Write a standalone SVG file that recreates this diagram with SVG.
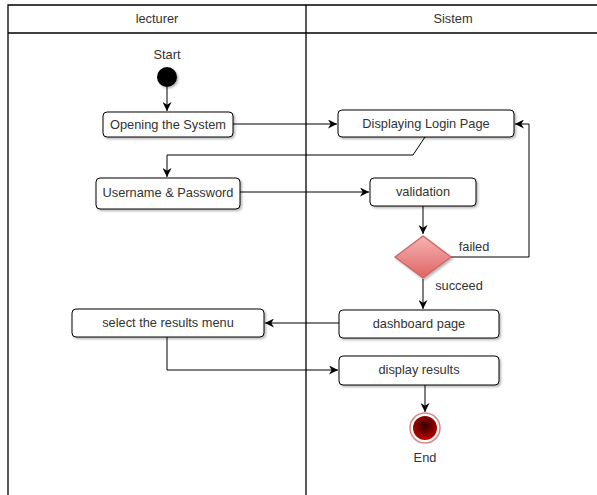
<svg xmlns="http://www.w3.org/2000/svg" width="597" height="495" viewBox="0 0 597 495">
<defs>
<marker id="arr" viewBox="0 0 10 10" refX="10" refY="5" markerWidth="9" markerHeight="9" markerUnits="userSpaceOnUse" orient="auto">
<path d="M0,0 L10,5 L0,10 L3,5 z" fill="#000"/>
</marker>
<linearGradient id="dia" x1="0" y1="0" x2="0" y2="1">
<stop offset="0" stop-color="#f6b3b3"/>
<stop offset="1" stop-color="#e06464"/>
</linearGradient>
<radialGradient id="endg" cx="0.5" cy="0.4" r="0.6">
<stop offset="0" stop-color="#300000"/>
<stop offset="1" stop-color="#c00000"/>
</radialGradient>
<filter id="sh" x="-10%" y="-10%" width="130%" height="150%">
<feDropShadow dx="1.5" dy="1.5" stdDeviation="0.8" flood-color="#000" flood-opacity="0.3"/>
</filter>
</defs>
<style>
.lane{fill:none;stroke:#000;stroke-width:1.3}
.box{fill:#fff;stroke:#000;stroke-width:1;filter:url(#sh)}
.t{font-family:"Liberation Sans",Arial,sans-serif;font-size:12.8px;fill:#333;text-anchor:middle}
.c{fill:none;stroke:#000;stroke-width:1;marker-end:url(#arr)}
</style>
<rect width="597" height="495" fill="#fff"/>
<g id="lanes">
<path class="lane" d="M8,500 V5 H600 M8,33 H600 M306,5 V500"/>
<text class="t" x="157" y="23">lecturer</text>
<text class="t" x="453" y="23">Sistem</text>
</g>
<g id="connectors">
<path class="c" d="M167,87 V111"/>
<path class="c" d="M233,124 H337"/>
<path class="c" d="M425,137 L413,155 H167 V177"/>
<path class="c" d="M240,192 H369"/>
<path class="c" d="M423,206 V234"/>
<path class="c" d="M451,257 H529 V124 H515"/>
<path class="c" d="M423,279 V309"/>
<path class="c" d="M339,323 H265"/>
<path class="c" d="M167,337 V370 H338"/>
<path class="c" d="M425,385 V412"/>
<text class="t" x="474" y="251">failed</text>
<text class="t" x="459" y="290">succeed</text>
</g>
<g id="start">
<text class="t" x="167" y="59">Start</text>
<circle cx="167" cy="77" r="10" fill="#000" filter="url(#sh)"/>
</g>
<g id="opening">
<rect class="box" x="103" y="112" width="130" height="25" rx="4"/>
<text class="t" x="168" y="129">Opening the System</text>
</g>
<g id="login">
<rect class="box" x="338" y="110" width="176" height="27" rx="4"/>
<text class="t" x="426" y="128">Displaying Login Page</text>
</g>
<g id="userpass">
<rect class="box" x="96" y="178" width="144" height="31" rx="4"/>
<text class="t" x="168" y="197">Username &amp; Password</text>
</g>
<g id="validation">
<rect class="box" x="370" y="178" width="106" height="28" rx="4"/>
<text class="t" x="423" y="196">validation</text>
</g>
<g id="decision">
<path d="M423,236 L451,257 L423,278 L395,257 Z" fill="url(#dia)" stroke="#c96a6a" stroke-width="1.5" stroke-linejoin="round" filter="url(#sh)"/>
</g>
<g id="dashboard">
<rect class="box" x="339" y="310" width="160" height="28" rx="4"/>
<text class="t" x="419" y="328">dashboard page</text>
</g>
<g id="selectmenu">
<rect class="box" x="72" y="309" width="192" height="28" rx="4"/>
<text class="t" x="168" y="327">select the results menu</text>
</g>
<g id="display">
<rect class="box" x="339" y="356" width="160" height="29" rx="4"/>
<text class="t" x="419" y="374">display results</text>
</g>
<g id="end">
<circle cx="425" cy="428" r="15" fill="#fff" stroke="#d88" stroke-width="1.5"/>
<circle cx="425" cy="428" r="12" fill="url(#endg)"/>
<text class="t" x="425" y="462">End</text>
</g>
</svg>
